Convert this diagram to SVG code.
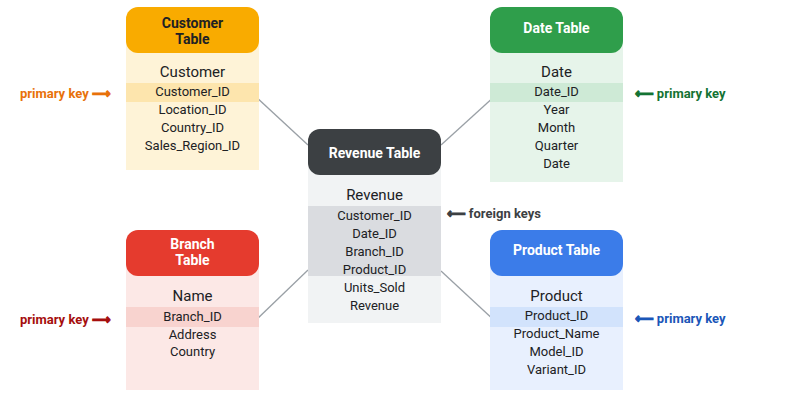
<svg xmlns="http://www.w3.org/2000/svg" width="804" height="404" viewBox="0 0 804 404">
<style>
text{font-family:Roboto,"Noto Sans","DejaVu Sans",sans-serif;text-anchor:middle;dominant-baseline:central}
.h{font-size:14px;font-weight:bold}
.t{font-size:15px;fill:#202124}
.r{font-size:13px;fill:#202124}
.k{font-size:13px;font-weight:bold;text-anchor:start}
.a{stroke-width:1.1}
.c{stroke:#9aa0a6;stroke-width:1.3;fill:none}
</style>
<rect width="804" height="404" fill="#ffffff"/>
<g id="connectors">
<line class="c" x1="254" y1="95" x2="308" y2="145"/>
<line class="c" x1="441" y1="145" x2="496" y2="95"/>
<line class="c" x1="254" y1="322" x2="308" y2="270"/>
<line class="c" x1="441" y1="271" x2="496" y2="322"/>
</g>
<g id="customer">
<rect x="126" y="40" width="133" height="130" fill="#fef3d7"/>
<rect x="126" y="83" width="133" height="19" fill="#fde5ad"/>
<rect x="126" y="7" width="133" height="46" rx="12" fill="#f9ab00"/>
<text class="h" x="192.5" y="23" fill="#202124">Customer</text>
<text class="h" x="192.5" y="39" fill="#202124">Table</text>
<text class="t" x="192.5" y="72">Customer</text>
<text class="r" x="192.5" y="91">Customer_ID</text>
<text class="r" x="192.5" y="109">Location_ID</text>
<text class="r" x="192.5" y="127">Country_ID</text>
<text class="r" x="192.5" y="145">Sales_Region_ID</text>
<text class="k" x="20" y="93" fill="#e8710a">primary key <tspan class="a" stroke="#e8710a">⟶</tspan></text>
</g>
<g id="date">
<rect x="490" y="40" width="133" height="142" fill="#e6f4ea"/>
<rect x="490" y="83" width="133" height="19" fill="#ceead6"/>
<rect x="490" y="7" width="133" height="46" rx="12" fill="#2f9e4b"/>
<text class="h" x="556.5" y="28" fill="#ffffff">Date Table</text>
<text class="t" x="556.5" y="72">Date</text>
<text class="r" x="556.5" y="91">Date_ID</text>
<text class="r" x="556.5" y="109">Year</text>
<text class="r" x="556.5" y="127">Month</text>
<text class="r" x="556.5" y="145">Quarter</text>
<text class="r" x="556.5" y="163">Date</text>
<text class="k" x="635" y="93" fill="#137333"><tspan class="a" stroke="#137333">⟵</tspan> primary key</text>
</g>
<g id="revenue">
<rect x="308" y="160" width="133" height="163" fill="#f1f3f4"/>
<rect x="308" y="206" width="133" height="70" fill="#dadce0"/>
<rect x="308" y="129" width="133" height="46" rx="12" fill="#3c4043"/>
<text class="h" x="374.5" y="153" fill="#ffffff">Revenue Table</text>
<text class="t" x="374.5" y="195">Revenue</text>
<text class="r" x="374.5" y="215">Customer_ID</text>
<text class="r" x="374.5" y="233">Date_ID</text>
<text class="r" x="374.5" y="251">Branch_ID</text>
<text class="r" x="374.5" y="269">Product_ID</text>
<text class="r" x="374.5" y="287">Units_Sold</text>
<text class="r" x="374.5" y="305">Revenue</text>
<text class="k" x="447" y="213" fill="#3c4043"><tspan class="a" stroke="#3c4043">⟵</tspan> foreign keys</text>
</g>
<g id="branch">
<rect x="126" y="262" width="133" height="128" fill="#fce8e6"/>
<rect x="126" y="307" width="133" height="20" fill="#f8d3cf"/>
<rect x="126" y="230" width="133" height="46" rx="12" fill="#e53b2e"/>
<text class="h" x="192.5" y="244" fill="#ffffff">Branch</text>
<text class="h" x="192.5" y="260" fill="#ffffff">Table</text>
<text class="t" x="192.5" y="296">Name</text>
<text class="r" x="192.5" y="316">Branch_ID</text>
<text class="r" x="192.5" y="334">Address</text>
<text class="r" x="192.5" y="351">Country</text>
<text class="k" x="20" y="319" fill="#a50e0e">primary key <tspan class="a" stroke="#a50e0e">⟶</tspan></text>
</g>
<g id="product">
<rect x="490" y="262" width="133" height="128" fill="#e8f0fe"/>
<rect x="490" y="307" width="133" height="20" fill="#d2e3fc"/>
<rect x="490" y="230" width="133" height="46" rx="12" fill="#3b7ce9"/>
<text class="h" x="556.5" y="250" fill="#ffffff">Product Table</text>
<text class="t" x="556.5" y="296">Product</text>
<text class="r" x="556.5" y="315">Product_ID</text>
<text class="r" x="556.5" y="333">Product_Name</text>
<text class="r" x="556.5" y="351">Model_ID</text>
<text class="r" x="556.5" y="369">Variant_ID</text>
<text class="k" x="635" y="318" fill="#1a56b8"><tspan class="a" stroke="#1a56b8">⟵</tspan> primary key</text>
</g>
</svg>
